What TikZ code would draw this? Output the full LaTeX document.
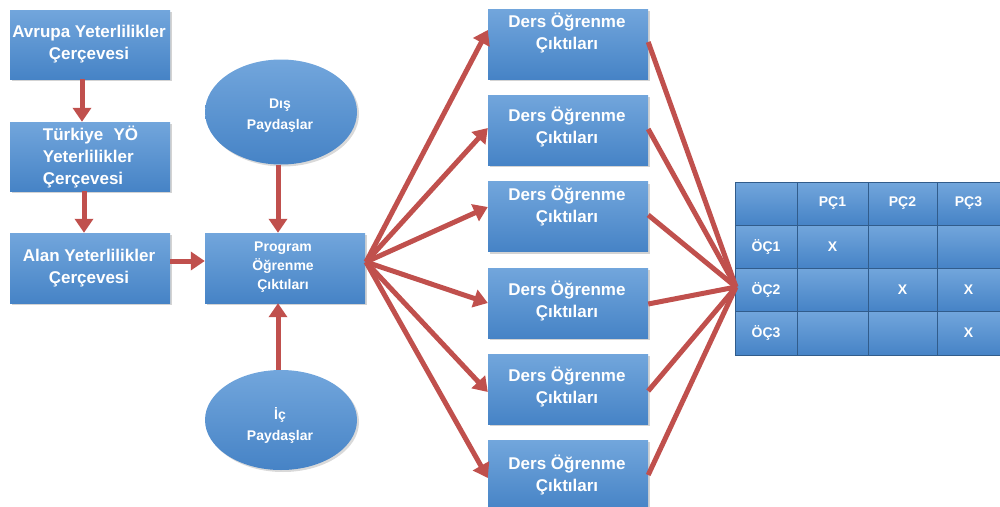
\documentclass[tikz,border=0pt]{standalone}
\usepackage{fontspec}
\setmainfont{Liberation Sans}
\usetikzlibrary{arrows.meta,shadows,shapes.geometric}
\definecolor{arrred}{HTML}{C0504D}
\definecolor{btop}{HTML}{72A6DC}
\definecolor{bbot}{HTML}{4683C6}
\tikzset{
  bluebox/.style={rectangle, top color=btop, bottom color=bbot, draw=none,
    drop shadow={shadow xshift=2pt, shadow yshift=-2pt, opacity=0.35},
    inner sep=0pt},
  blueell/.style={ellipse, top color=btop, bottom color=bbot, draw=none,
    drop shadow={shadow xshift=2pt, shadow yshift=-2pt, opacity=0.3},
    inner sep=0pt},
  bigtxt/.style={text=white, font=\bfseries\fontsize{17}{22}\selectfont, align=center, inner sep=0pt},
  midtxt/.style={text=white, font=\bfseries\fontsize{14}{19}\selectfont, align=center, inner sep=0pt},
  celltxt/.style={text=white, font=\bfseries\fontsize{14}{16}\selectfont, inner sep=0pt},
  cell/.style={rectangle, top color=btop, bottom color=bbot, draw=bbot!70!black, line width=0.4pt, inner sep=0pt},
  redarr/.style={draw=arrred, line width=5pt, -{Triangle[length=14pt,width=18pt]}},
  redline/.style={draw=arrred, line width=5pt},
}
\begin{document}
\begin{tikzpicture}[x=1pt,y=-1pt]
\useasboundingbox (0,0) rectangle (1000,506);
% left column
\node[bluebox, minimum width=160pt, minimum height=69pt] (avr) at (90,44.5) {};
\node[bigtxt] at (89,44) {Avrupa Yeterlilikler\\Çerçevesi};
\node[bluebox, minimum width=160pt, minimum height=69pt] (tur) at (90,156.5) {};
\node[bigtxt, align=left] at (90.5,157) {Türkiye\hspace{0.6em}YÖ\\Yeterlilikler\\Çerçevesi};
\node[bluebox, minimum width=160pt, minimum height=70pt] (alan) at (90,268) {};
\node[bigtxt] at (89,268) {Alan Yeterlilikler\\Çerçevesi};
\node[bluebox, minimum width=160pt, minimum height=70pt] (prog) at (285,268) {};
\node[midtxt] at (283,267) {Program\\Öğrenme\\Çıktıları};
\node[blueell, minimum width=152pt, minimum height=105pt] (dis) at (281,112) {};
\node[midtxt, font=\bfseries\fontsize{14}{21}\selectfont] at (280,116) {Dış\\Paydaşlar};
\node[blueell, minimum width=152pt, minimum height=100pt] (ic) at (281,420) {};
\node[midtxt, font=\bfseries\fontsize{14}{21}\selectfont] at (280,425) {İç\\Paydaşlar};
% ders boxes
\foreach \i/\y/\ty in {1/44/33,2/130/127.5,3/216.5/206,4/303/301,5/389/387,6/475/475}{
  \node[bluebox, minimum width=160pt, minimum height=70pt] (d\i) at (568,\y) {};
  \node[bigtxt] at (567,\ty) {Ders Öğrenme\\Çıktıları};
}
% table
\foreach \c/\xa/\xb in {1/735/797,2/797/868,3/868/937,4/937/1000}{
  \foreach \r/\ya/\yb in {1/182/225,2/225/268,3/268/311,4/311/355}{
    \node[cell, minimum width={\xb-\xa}, minimum height={\yb-\ya}] (t\r\c) at ({(\xa+\xb)/2},{(\ya+\yb)/2}) {};
  }
}
\node[celltxt] at (t12) {PÇ1};
\node[celltxt] at (t13) {PÇ2};
\node[celltxt] at (t14) {PÇ3};
\node[celltxt] at (t21) {ÖÇ1};
\node[celltxt] at (t31) {ÖÇ2};
\node[celltxt] at (t41) {ÖÇ3};
\node[celltxt] at (t22) {X};
\node[celltxt] at (t33) {X};
\node[celltxt] at (t34) {X};
\node[celltxt] at (t44) {X};
\coordinate (tin) at (736,287);
\coordinate (pout) at (366,262);
% arrows left
\draw[redarr] (avr.south -| 82,0) -- (tur.north -| 82,0);
\draw[redarr] (tur.south -| 84,0) -- (alan.north -| 84,0);
\draw[redarr] (alan.east |- 0,261) -- (prog.west |- 0,261);
\draw[redarr] (dis.south -| 278,0) -- (prog.north -| 278,0);
\draw[redarr] (ic.north -| 278,0) -- (prog.south -| 278,0);
% program to ders
\draw[redarr] (pout) -- (d1.west |- 0,30);
\draw[redarr] (pout) -- (d2.west |- 0,128);
\draw[redarr] (pout) -- (d3.west |- 0,207);
\draw[redarr] (pout) -- (d4.west |- 0,303);
\draw[redarr] (pout) -- (d5.west |- 0,392);
\draw[redarr] (pout) -- (d6.west |- 0,478);
% ders to table
\draw[redline] (d1.east |- 0,42) -- (tin);
\draw[redline] (d2.east |- 0,129) -- (tin);
\draw[redline] (d3.east |- 0,215) -- (tin);
\draw[redline] (d4.east |- 0,304) -- (tin);
\draw[redline] (d5.east |- 0,391) -- (tin);
\draw[redline] (d6.east |- 0,475) -- (tin);
\end{tikzpicture}
\end{document}
